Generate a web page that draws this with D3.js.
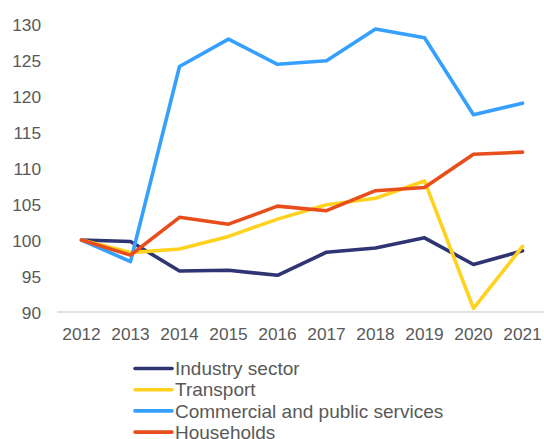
<!DOCTYPE html>
<html>
<head>
<meta charset="utf-8">
<script src="https://cdn.jsdelivr.net/npm/d3@7"></script>
<style>
  html, body { margin: 0; padding: 0; background: #fff; }
  svg { display: block; }
  text { font-family: "Liberation Sans", Arial, sans-serif; fill: #595959; }
</style>
</head>
<body>
<svg id="chart" width="544" height="439"></svg>
<script>
const years = ["2012","2013","2014","2015","2016","2017","2018","2019","2020","2021"];
const seriesNames = ["Industry sector","Transport","Commercial and public services","Households"];
const industry = [100, 99.8, 95.7, 95.8, 95.1, 98.3, 98.9, 100.3, 96.6, 98.5];
const transport = [100, 98.25, 98.75, 100.5, 102.9, 104.9, 105.8, 108.2, 90.5, 99.1];
const commercial = [100, 97.0, 124.1, 127.9, 124.4, 124.9, 129.3, 128.1, 117.4, 119.0];
const households = [100, 97.9, 103.15, 102.2, 104.7, 104.07, 106.85, 107.3, 111.9, 112.2];
const yTicks = [90, 95, 100, 105, 110, 115, 120, 125, 130];
const colors = ["#2e3572", "#ffd21f", "#36a0ff", "#e84e1b"];

const series = [industry, transport, commercial, households];

const svg = d3.select("#chart");
const x = d3.scaleBand().domain(years).range([57, 547]);
const y = d3.scaleLinear().domain([90, 130]).range([312, 24]);

// baseline axis line
svg.append("line")
  .attr("x1", 57).attr("x2", 544)
  .attr("y1", y(90)).attr("y2", y(90))
  .attr("stroke", "#d9d9d9").attr("stroke-width", 1.5);

// y axis labels
const yAxis = d3.axisLeft(y).tickValues(yTicks).tickSize(0).tickPadding(0);
const gy = svg.append("g").attr("transform", "translate(41,0)").call(yAxis);
gy.select(".domain").remove();
gy.selectAll("text")
  .attr("font-size", "17.3px")
  .attr("font-family", "'Liberation Sans', Arial, sans-serif")
  .attr("fill", "#595959")
  .attr("dy", "0.36em");

// x axis labels
const xAxis = d3.axisBottom(x).tickSize(0).tickPadding(0);
const gx = svg.append("g").attr("transform", "translate(0,328)").call(xAxis);
gx.select(".domain").remove();
gx.selectAll("text")
  .attr("font-size", "17.3px")
  .attr("font-family", "'Liberation Sans', Arial, sans-serif")
  .attr("fill", "#595959")
  .attr("dy", "0.71em");

const line = d3.line()
  .x((d, i) => x(years[i]) + x.bandwidth() / 2)
  .y(d => y(d));

series.forEach((s, k) => {
  svg.append("path")
    .datum(s)
    .attr("d", line)
    .attr("fill", "none")
    .attr("stroke", colors[k])
    .attr("stroke-width", 3.6)
    .attr("stroke-linejoin", "round")
    .attr("stroke-linecap", "round");
});

// legend
const legend = svg.append("g");
seriesNames.forEach((name, k) => {
  const ly = 368.5 + k * 21.2;
  legend.append("line")
    .attr("x1", 135).attr("x2", 172)
    .attr("y1", ly).attr("y2", ly)
    .attr("stroke", colors[k])
    .attr("stroke-width", 3.6)
    .attr("stroke-linecap", "round");
  legend.append("text")
    .attr("x", 175)
    .attr("y", ly)
    .attr("dy", "0.35em")
    .attr("font-size", "19px")
    .text(name);
});
</script>
</body>
</html>
